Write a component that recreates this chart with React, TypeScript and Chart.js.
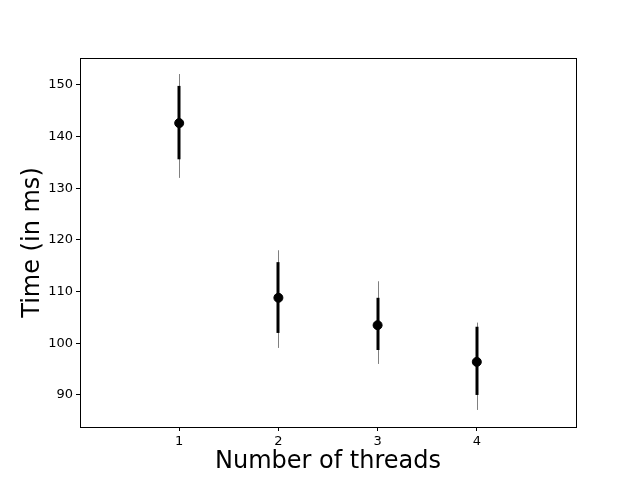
import { useEffect, useRef } from "react";
import { Chart, registerables } from "chart.js";

Chart.register(...registerables);

const threads = [1, 2, 3, 4];
const meanTimes = [142.6, 108.8, 103.5, 96.4];
const innerLow = [135.6, 102.0, 98.7, 90.0];
const innerHigh = [149.8, 115.7, 108.8, 103.2];
const outerLow = [132.0, 99.1, 96.0, 87.1];
const outerHigh = [152.1, 118.0, 112.0, 104.0];
const yTicks = [90, 100, 110, 120, 130, 140, 150];

const errorBars = {
  id: "errorBars",
  beforeDatasetsDraw(chart: any) {
    const { ctx, scales } = chart;
    const x = scales.x;
    const y = scales.y;
    ctx.save();
    threads.forEach((t, i) => {
      const px = Math.round(x.getPixelForValue(t)) + 0.5;
      ctx.strokeStyle = "#808080";
      ctx.lineWidth = 1;
      ctx.beginPath();
      ctx.moveTo(px, y.getPixelForValue(outerLow[i]));
      ctx.lineTo(px, y.getPixelForValue(outerHigh[i]));
      ctx.stroke();
      ctx.strokeStyle = "#000";
      ctx.lineWidth = 3;
      ctx.beginPath();
      ctx.moveTo(px - 0.5, y.getPixelForValue(innerLow[i]));
      ctx.lineTo(px - 0.5, y.getPixelForValue(innerHigh[i]));
      ctx.stroke();
    });
    ctx.restore();
  },
  afterDraw(chart: any) {
    const { ctx, chartArea: a } = chart;
    ctx.save();
    ctx.strokeStyle = "#000";
    ctx.lineWidth = 1;
    ctx.strokeRect(Math.round(a.left) + 0.5, Math.round(a.top) + 0.5, a.right - a.left, a.bottom - a.top);
    ctx.restore();
  },
};

export default function App() {
  const canvasRef = useRef<HTMLCanvasElement>(null);
  const chartRef = useRef<Chart | null>(null);

  useEffect(() => {
    document.body.style.margin = "0";
    if (!canvasRef.current) return;
    if (chartRef.current) chartRef.current.destroy();
    const font = { family: "DejaVu Sans", size: 13 };
    const titleFont = { family: "DejaVu Sans", size: 24 };
    chartRef.current = new Chart(canvasRef.current, {
      type: "scatter",
      data: {
        datasets: [
          {
            data: threads.map((t, i) => ({ x: t, y: meanTimes[i] })),
            backgroundColor: "#000",
            borderColor: "#000",
            pointRadius: 4.5,
          },
        ],
      },
      options: {
        responsive: false,
        animation: false,
        layout: { padding: { top: 58, right: 64, left: 14 } },
        plugins: { legend: { display: false }, tooltip: { enabled: false } },
        scales: {
          x: {
            type: "linear",
            min: 0,
            max: 5,
            border: { display: false },
            grid: { drawOnChartArea: false, tickLength: 4, color: "#000" },
            ticks: { color: "#000", font, padding: 3 },
            afterBuildTicks: (s: any) => { s.ticks = threads.map((v) => ({ value: v })); },
            title: { display: true, text: "Number of threads", color: "#000", font: titleFont, padding: { top: 2 } },
            afterFit: (s: any) => { s.height = 53; },
          },
          y: {
            type: "linear",
            min: 83.8,
            max: 155.2,
            border: { display: false },
            grid: { drawOnChartArea: false, tickLength: 4, color: "#000" },
            ticks: { color: "#000", font, padding: 3 },
            afterBuildTicks: (s: any) => { s.ticks = yTicks.map((v) => ({ value: v })); },
            title: { display: true, text: "Time (in ms)", color: "#000", font: titleFont },
            afterFit: (s: any) => { s.width = 66; },
          },
        },
      },
      plugins: [errorBars],
    });
    return () => {
      if (chartRef.current) chartRef.current.destroy();
      chartRef.current = null;
    };
  }, []);

  return (
    <div style={{ width: 640, height: 480, background: "#fff" }}>
      <canvas ref={canvasRef} width={640} height={480} />
    </div>
  );
}
